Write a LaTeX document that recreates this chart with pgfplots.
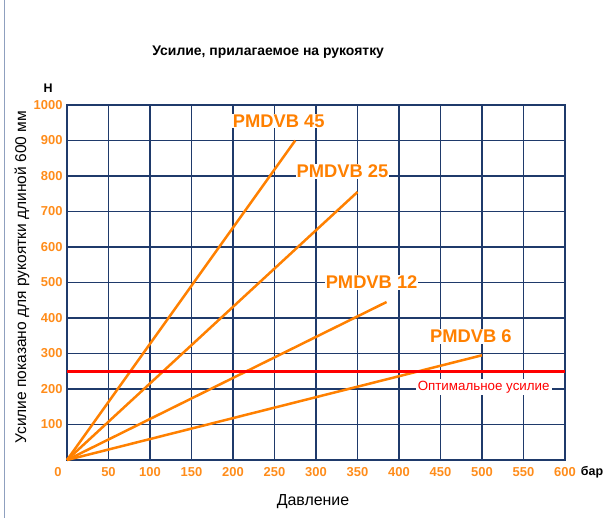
\documentclass[border=0pt]{standalone}
\usepackage{pgfplots}
\pgfplotsset{compat=1.18}
\usepackage{fontspec}
\setmainfont{Liberation Sans}
\definecolor{gridnavy}{HTML}{1F3A6B}
\definecolor{lineorange}{HTML}{FF8000}
\definecolor{tickorange}{HTML}{FF8C1A}
\definecolor{borderblue}{HTML}{8FA0BF}
\begin{document}
\begin{tikzpicture}
\path[use as bounding box] (-67bp,-58bp) rectangle (539bp,460bp);
\draw[color=borderblue, line width=1bp] (-62bp,-58bp) -- (-62bp,460bp);
\begin{axis}[
  at={(0,0)}, anchor=south west, scale only axis,
  width=498bp, height=355bp,
  xmin=0, xmax=600, ymin=0, ymax=1000,
  xtick={50,100,...,600}, ytick={100,200,...,1000},
  grid=major, major grid style={gridnavy, line width=1.2bp},
  axis line style={gridnavy, line width=1.3bp},
  major tick length=0pt,
  tick label style={font=\fontsize{13}{14}\selectfont\bfseries, text=tickorange},
  /pgf/number format/assume math mode=true,
  /pgf/number format/1000 sep={},
  xticklabel style={yshift=-3.5bp},
  yticklabel style={xshift=-1bp},
  clip=false,
]
\addplot[lineorange, line width=2.5bp] coordinates {(0,0) (275,900)};
\addplot[lineorange, line width=2.5bp] coordinates {(0,0) (350,755)};
\addplot[lineorange, line width=2.5bp] coordinates {(0,0) (385,445)};
\addplot[lineorange, line width=2.5bp] coordinates {(0,0) (500,295)};
\addplot[red, line width=3bp] coordinates {(0,250) (600,250)};

\node[fill=white, inner sep=1bp, text=lineorange, font=\fontsize{18.4}{19}\selectfont\bfseries] at (axis cs:255,955) {PMDVB 45};
\node[fill=white, inner sep=1bp, text=lineorange, font=\fontsize{18.4}{19}\selectfont\bfseries] at (axis cs:332,814) {PMDVB 25};
\node[fill=white, inner sep=1bp, text=lineorange, font=\fontsize{18.4}{19}\selectfont\bfseries] at (axis cs:367,500) {PMDVB 12};
\node[fill=white, inner sep=1bp, text=lineorange, font=\fontsize{18.4}{19}\selectfont\bfseries] at (axis cs:486.5,349) {PMDVB 6};
\node[fill=white, inner sep=2bp, text=red, font=\fontsize{13.4}{14}\selectfont] at (axis cs:502,206) {Оптимальное усилие};

\node[font=\fontsize{14}{15}\selectfont\bfseries] at ([yshift=53bp]rel axis cs:0.404,1) {Усилие, прилагаемое на рукоятку};
\node[font=\fontsize{12.5}{13}\selectfont\bfseries] at ([xshift=-19bp,yshift=17bp]axis cs:0,1000) {Н};
\node[font=\fontsize{12.5}{13}\selectfont\bfseries] at ([xshift=27bp,yshift=-12.5bp]axis cs:600,0) {бар};
\node[font=\fontsize{13}{14}\selectfont\bfseries, text=tickorange] at ([xshift=-9bp,yshift=-12.5bp]axis cs:0,0) {0};
\node[font=\fontsize{16}{17}\selectfont] at ([yshift=-42bp]rel axis cs:0.494,0) {Давление};
\node[font=\fontsize{15.6}{16}\selectfont, rotate=90] at ([xshift=-45bp]rel axis cs:0,0.515) {Усилие показано для рукоятки длиной 600 мм};
\end{axis}
\end{tikzpicture}
\end{document}
